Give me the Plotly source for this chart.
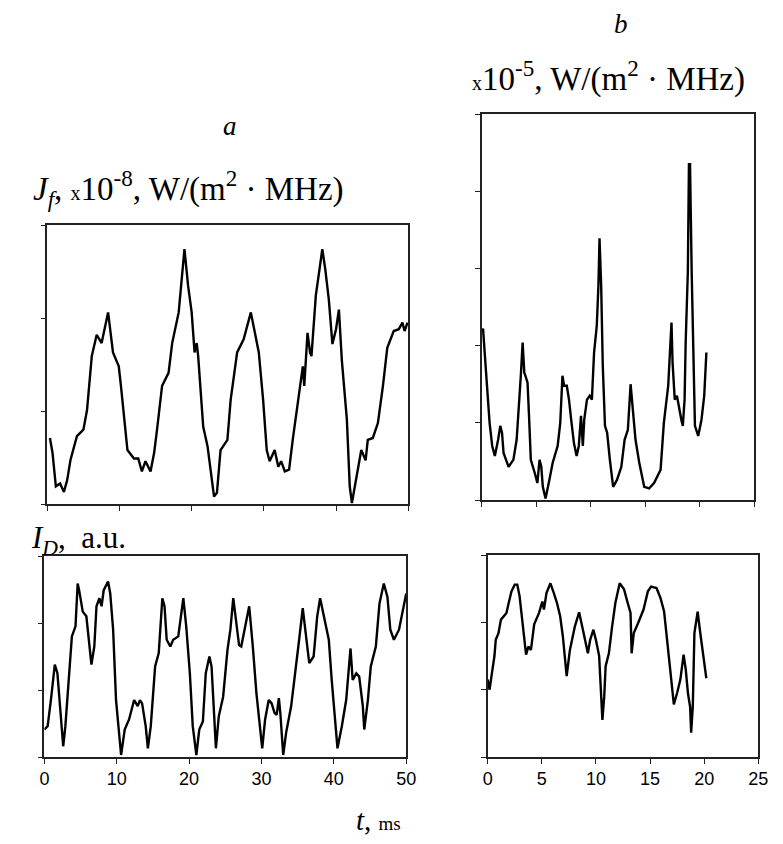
import plotly.graph_objects as go

# Panel a, top: J_f (x1e-8 W/(m^2 MHz)) vs t (ms)
a_top_t = [0.36, 0.72, 1.18, 1.77, 2.3, 2.76, 3.2, 4.1, 5.0, 5.5, 6.16, 6.84, 7.52, 7.97, 8.42, 9.1, 9.9, 10.2,
           11.1, 12.0, 12.6, 13.1, 13.6, 14.3, 14.8, 15.2, 15.9, 16.8, 17.3, 18.2, 18.5, 19.0, 19.5, 20.0, 20.4,
           20.7, 20.9, 21.6, 22.2, 23.1, 23.5, 24.0, 24.95, 25.4, 26.3, 27.2, 28.2, 29.3, 29.9, 30.4, 30.8, 31.5,
           32.0, 32.4, 32.9, 33.5, 34.0, 34.9, 35.4, 35.6, 36.05, 36.4, 36.6, 37.2, 38.1, 38.5, 39.0, 39.5, 40.0,
           40.4, 40.8, 41.5, 41.9, 42.2, 42.8, 43.5, 44.1, 44.4, 45.1, 45.8, 46.5, 47.1, 48.0, 48.7, 49.2, 49.5, 49.9]
a_top_v = [0.71, 0.55, 0.19, 0.22, 0.13, 0.26, 0.47, 0.73, 0.80, 1.01, 1.59, 1.82, 1.73, 1.91, 2.06, 1.63, 1.48, 1.27,
           0.58, 0.49, 0.49, 0.35, 0.46, 0.35, 0.55, 0.80, 1.27, 1.41, 1.73, 2.06, 2.35, 2.74, 2.35, 2.06, 1.63,
           1.73, 1.59, 0.83, 0.62, 0.08, 0.12, 0.58, 0.69, 1.12, 1.63, 1.77, 2.06, 1.63, 1.12, 0.58, 0.46, 0.58,
           0.40, 0.46, 0.35, 0.37, 0.69, 1.23, 1.48, 1.27, 1.84, 1.63, 1.59, 2.24, 2.74, 2.53, 2.20, 1.72, 1.88,
           2.09, 1.55, 0.91, 0.19, 0.01, 0.29, 0.58, 0.47, 0.69, 0.71, 0.87, 1.27, 1.68, 1.86, 1.88, 1.95, 1.86, 1.95]

# Panel a, bottom: I_D (a.u.) vs t (ms)
a_bot_t = [0, 0.45, 0.9, 1.44, 1.8, 2.26, 2.6, 2.9, 3.4, 3.8, 4.3, 4.6, 4.8, 5.3, 5.8, 6.1, 6.5, 6.9, 7.2, 7.6, 7.9,
           8.2, 8.8, 9.1, 9.5, 9.9, 10.3, 10.6, 11.1, 11.7, 12.4, 12.9, 13.2, 13.5, 14.0, 14.3, 14.7, 15.3, 15.8,
           16.3, 16.6, 16.9, 17.4, 17.8, 18.5, 19.2, 19.6, 20.1, 20.5, 21.0, 21.4, 21.9, 22.3, 22.8, 23.1, 23.4,
           23.7, 24.1, 24.7, 25.3, 25.7, 26.1, 26.4, 26.9, 27.2, 27.5, 28.3, 28.8, 29.3, 30.1, 30.5, 31.0, 31.4,
           31.8, 32.1, 32.4, 32.6, 33.0, 33.4, 34.1, 34.7, 35.2, 35.7, 36.1, 36.6, 37.2, 37.7, 38.1, 38.6, 39.3,
           39.7, 40.2, 40.5, 41.1, 41.7, 42.3, 42.6, 43.1, 43.5, 44.0, 44.2, 44.7, 45.1, 45.8, 46.3, 46.9, 47.4,
           47.8, 48.3, 49.0, 49.6, 50.0]
a_bot_v = [0.41, 0.46, 0.85, 1.38, 1.25, 0.66, 0.16, 0.46, 1.25, 1.80, 1.95, 2.59, 2.49, 2.17, 2.10, 1.80, 1.38, 1.65,
           2.25, 2.37, 2.25, 2.49, 2.62, 2.44, 1.90, 0.85, 0.36, 0.03, 0.41, 0.56, 0.85, 0.76, 0.85, 0.80, 0.46,
           0.13, 0.46, 1.35, 1.55, 2.37, 2.25, 1.75, 1.65, 1.75, 1.80, 2.37, 1.95, 1.25, 0.46, 0.03, 0.41, 0.53,
           1.25, 1.50, 1.35, 0.76, 0.13, 0.61, 0.90, 1.60, 1.90, 2.37, 2.10, 1.67, 1.65, 1.80, 2.25, 1.65, 0.95,
           0.13, 0.56, 0.85, 0.80, 0.66, 0.63, 0.88, 0.66, 0.03, 0.36, 0.76, 1.35, 1.75, 2.22, 1.85, 1.40, 1.50,
           2.10, 2.37, 2.10, 1.75, 1.15, 0.46, 0.13, 0.46, 0.85, 1.62, 1.15, 1.25, 1.20, 0.76, 0.41, 0.85, 1.35,
           1.65, 2.29, 2.59, 2.39, 1.90, 1.75, 1.90, 2.20, 2.44]

# Panel b, top: J_f (x1e-5 W/(m^2 MHz)) vs t (ms)
b_top_t = [0, 0.12, 0.27, 0.5, 0.72, 0.96, 1.2, 1.5, 1.7, 1.86, 2.0, 2.46, 2.9, 3.2, 3.4, 3.6, 3.75, 3.9, 4.0, 4.2,
           4.35, 4.5, 4.86, 5.1, 5.3, 5.46, 5.6, 5.85, 6.2, 6.5, 6.96, 7.2, 7.4, 7.55, 7.8, 8.0, 8.2, 8.45, 8.7,
           8.9, 9.1, 9.27, 9.4, 9.65, 9.9, 10.1, 10.3, 10.55, 10.7, 10.8, 10.95, 11.1, 11.3, 11.5, 11.75, 12.05,
           12.4, 12.8, 13.1, 13.4, 13.65, 13.85, 14.1, 14.45, 14.9, 15.35, 15.8, 16.4, 16.7, 17.1, 17.3, 17.4,
           17.5, 17.7, 17.9, 18.05, 18.3, 18.44, 18.6, 18.7, 18.9, 19.0, 19.1, 19.25, 19.4, 19.55, 19.85, 20.15,
           20.4, 20.6]
b_top_v = [2.17, 2.22, 1.91, 1.48, 1.0, 0.70, 0.57, 0.78, 0.96, 0.87, 0.61, 0.43, 0.52, 0.78, 1.17, 1.65, 2.04, 1.65,
           1.61, 1.52, 1.04, 0.52, 0.35, 0.22, 0.52, 0.43, 0.17, 0.02, 0.26, 0.48, 0.70, 1.0, 1.61, 1.48, 1.48,
           1.30, 1.04, 0.74, 0.57, 0.70, 1.09, 0.70, 1.04, 1.30, 1.35, 1.30, 1.91, 2.26, 2.78, 3.39, 2.78, 1.74,
           0.96, 0.87, 0.52, 0.17, 0.26, 0.43, 0.78, 0.91, 1.50, 1.17, 0.78, 0.48, 0.17, 0.15, 0.22, 0.39, 1.0,
           1.48, 1.96, 2.30, 1.78, 1.30, 1.35, 1.22, 1.04, 0.96, 1.30, 2.04, 2.96, 4.35, 4.35, 2.96, 1.96, 0.96,
           0.83, 1.04, 1.35, 1.91]

# Panel b, bottom: I_D (a.u.) vs t (ms)
b_bot_t = [0, 0.18, 0.4, 0.63, 0.75, 1.0, 1.23, 1.53, 1.74, 1.95, 2.2, 2.5, 2.74, 2.95, 3.25, 3.55, 3.76, 4.0, 4.3,
           4.75, 5.05, 5.2, 5.44, 5.8, 6.1, 6.4, 6.7, 6.95, 7.3, 7.6, 8.06, 8.45, 8.8, 9.26, 9.47, 9.77, 10.0, 10.3,
           10.6, 10.77, 10.9, 11.2, 11.5, 11.8, 12.2, 12.6, 12.9, 13.2, 13.3, 13.5, 13.9, 14.4, 14.8, 15.1, 15.6,
           15.97, 16.3, 16.6, 16.9, 17.2, 17.5, 17.8, 18.1, 18.3, 18.5, 18.7, 18.8, 18.95, 19.1, 19.4, 19.6, 19.8,
           20.0, 20.2]
b_bot_v = [1.15, 1.0, 1.25, 1.50, 1.74, 1.84, 2.04, 2.11, 2.14, 2.29, 2.46, 2.56, 2.56, 2.39, 1.99, 1.52, 1.64, 1.59,
           1.97, 2.14, 2.31, 2.19, 2.44, 2.58, 2.44, 2.29, 2.09, 1.79, 1.20, 1.59, 1.94, 2.15, 1.89, 1.54, 1.74,
           1.89, 1.74, 1.50, 0.55, 0.90, 1.35, 1.54, 1.94, 2.29, 2.58, 2.49, 2.31, 2.14, 1.54, 1.84, 1.99, 2.19,
           2.46, 2.53, 2.51, 2.36, 2.16, 1.69, 1.15, 0.78, 0.95, 1.15, 1.52, 1.30, 0.95, 0.75, 0.36, 0.75, 1.84,
           2.16, 1.89, 1.64, 1.45, 1.17]

a_xticks = [0, 10, 20, 30, 40, 50]
b_xticks = [0, 5, 10, 15, 20, 25]

# The page body has an 8px default margin; size the figure to fit the window.
OFF = 8
W, H = 783 - OFF, 844 - OFF - 4
def fx(px):
    return (px - OFF) / W
def fy(py):
    return 1 - (py - OFF) / H

LINE = dict(color="black", width=2.4)
fig = go.Figure()
fig.add_trace(go.Scatter(x=a_top_t, y=a_top_v, mode="lines", line=LINE, xaxis="x", yaxis="y"))
fig.add_trace(go.Scatter(x=a_bot_t, y=a_bot_v, mode="lines", line=LINE, xaxis="x2", yaxis="y2"))
fig.add_trace(go.Scatter(x=b_top_t, y=b_top_v, mode="lines", line=LINE, xaxis="x3", yaxis="y3"))
fig.add_trace(go.Scatter(x=b_bot_t, y=b_bot_v, mode="lines", line=LINE, xaxis="x4", yaxis="y4"))

tickfont = dict(family="Liberation Sans, Arial", size=18, color="black")
def xax(dom, anchor, rng, ticks, labels):
    return dict(domain=dom, anchor=anchor, range=rng, tickvals=ticks,
                showticklabels=labels, ticks="outside", ticklen=5, tickcolor="#222",
                showline=True, mirror=True, linecolor="#222", linewidth=1.5,
                showgrid=False, zeroline=False, tickfont=tickfont)
def yax(dom, anchor, rng, ticks):
    return dict(domain=dom, anchor=anchor, range=rng, tickvals=ticks,
                showticklabels=False, ticks="outside", ticklen=5, tickcolor="#222",
                showline=True, mirror=True, linecolor="#222", linewidth=1.5,
                showgrid=False, zeroline=False)

fig.update_layout(
    width=W, height=H, margin=dict(l=0, r=0, t=0, b=0),
    paper_bgcolor="white", plot_bgcolor="white", showlegend=False,
    xaxis=xax([fx(43), fx(411)], "y", [0, 50], a_xticks, False),
    yaxis=yax([fy(504), fy(225)], "x", [0, 3], [0, 1, 2, 3]),
    xaxis2=xax([fx(40), fx(409)], "y2", [0, 50], a_xticks, True),
    yaxis2=yax([fy(757), fy(556)], "x2", [0, 3], [0, 1, 2, 3]),
    xaxis3=xax([fx(486), fx(764)], "y3", [0, 25], b_xticks, False),
    yaxis3=yax([fy(500), fy(114)], "x3", [0, 5], [0, 1, 2, 3, 4, 5]),
    xaxis4=xax([fx(492), fx(768)], "y4", [0, 25], b_xticks, True),
    yaxis4=yax([fy(757), fy(555)], "x4", [0, 3], [0, 1, 2, 3]),
)

serif = "Liberation Serif, Times New Roman"
def ann(text, px, py, size, xanchor="left"):
    fig.add_annotation(text=text, x=fx(px), y=fy(py), xref="paper", yref="paper",
                       xanchor=xanchor, yanchor="middle", showarrow=False,
                       font=dict(family=serif, size=size, color="black"))

ann("<i>a</i>", 229, 126, 27, "center")
ann("<i>b</i>", 628, 24, 27, "center")
ann("<i>J</i><sub><i>f</i></sub>, <span style='font-size:20px'>x</span>10<sup>-8</sup>, W/(m<sup>2</sup> · MHz)", 26, 188, 33)
ann("<span style='font-size:20px'>x</span>10<sup>-5</sup>, W/(m<sup>2</sup> · MHz)", 474, 76, 33)
ann("<i>I</i><sub><i>D</i></sub>,  a.u.", 24, 540, 31)
ann("<i>t</i>, <span style='font-size:19px'>ms</span>", 356, 820, 29)

fig.write_html("out.html")
